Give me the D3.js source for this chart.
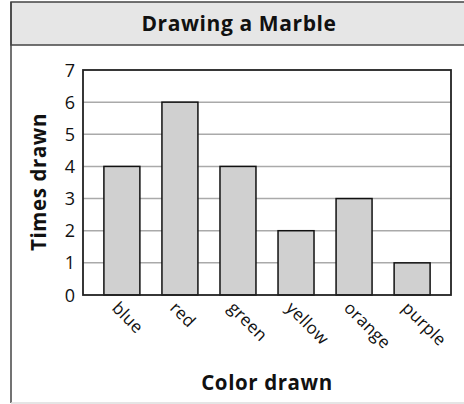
<!doctype html>
<html>
<head>
<meta charset="utf-8">
<script src="https://cdn.jsdelivr.net/npm/d3@7/dist/d3.min.js"></script>
<style>
  body { margin: 0; background: #fff; }
  text { font-family: "Open Sans", "Noto Sans", sans-serif; fill: #111; }
</style>
</head>
<body>
<script>
// data
var colors = ["blue", "red", "green", "yellow", "orange", "purple"];
var timesDrawn = [4, 6, 4, 2, 3, 1];
var yTicks = [0, 1, 2, 3, 4, 5, 6, 7];

var w = 464, h = 404;
var plotLeft = 83, plotRight = 451, plotTop = 70, plotBottom = 295;

var svg = d3.select("body").append("svg").attr("width", w).attr("height", h);

// frame + title band
svg.append("rect").attr("x", 11).attr("y", 2).attr("width", 460).attr("height", 43)
  .attr("fill", "#e6e6e6").attr("stroke", "#444").attr("stroke-width", 1.5);
svg.append("line").attr("x1", 11).attr("x2", 11).attr("y1", 2).attr("y2", 403)
  .attr("stroke", "#444").attr("stroke-width", 1.5);
svg.append("line").attr("x1", 11).attr("x2", 464).attr("y1", 403).attr("y2", 403)
  .attr("stroke", "#ddd").attr("stroke-width", 1.5);
svg.append("text").attr("x", 239).attr("y", 31).attr("text-anchor", "middle")
  .attr("font-size", "21px").attr("font-weight", "bold").attr("letter-spacing", "0.6px")
  .text("Drawing a Marble");

var x = d3.scaleBand().domain(colors).range([plotLeft, plotRight]).paddingInner(0.38).paddingOuter(0.36);
var y = d3.scaleLinear().domain([0, 7]).range([plotBottom, plotTop]);

// gridlines
svg.selectAll("line.grid").data(yTicks.slice(1, -1)).enter().append("line")
  .attr("class", "grid")
  .attr("x1", plotLeft).attr("x2", plotRight)
  .attr("y1", function(d){ return y(d); }).attr("y2", function(d){ return y(d); })
  .attr("stroke", "#aaa").attr("stroke-width", 1.5);

// bars
svg.selectAll("rect.bar").data(timesDrawn).enter().append("rect")
  .attr("class", "bar")
  .attr("x", function(d, i){ return x(colors[i]); })
  .attr("y", function(d){ return y(d); })
  .attr("width", x.bandwidth())
  .attr("height", function(d){ return y(0) - y(d); })
  .attr("fill", "#d0d0d0").attr("stroke", "#111").attr("stroke-width", 1.5);

// plot frame
svg.append("rect").attr("x", plotLeft).attr("y", plotTop).attr("width", plotRight - plotLeft).attr("height", plotBottom - plotTop)
  .attr("fill", "none").attr("stroke", "#222").attr("stroke-width", 1.8);

// y tick labels
svg.selectAll("text.ytick").data(yTicks).enter().append("text")
  .attr("class", "ytick")
  .attr("x", 75).attr("y", function(d){ return y(d) + 6.5; })
  .attr("text-anchor", "end").attr("font-size", "18px").text(function(d){ return d; });

// x category labels, slanted
svg.selectAll("text.xtick").data(colors).enter().append("text")
  .attr("class", "xtick")
  .attr("transform", function(d){ return "translate(" + (x(d) + x.bandwidth() / 2 - 11) + "," + 309 + ") rotate(45)"; })
  .attr("font-size", "17px").attr("letter-spacing", "0.3px").text(function(d){ return d; });

// axis titles
svg.append("text").attr("x", 267).attr("y", 390).attr("text-anchor", "middle")
  .attr("font-size", "20.5px").attr("font-weight", "bold").attr("letter-spacing", "0.6px")
  .text("Color drawn");
svg.append("text").attr("transform", "translate(46,182) rotate(-90)").attr("text-anchor", "middle")
  .attr("font-size", "20.5px").attr("font-weight", "bold").attr("letter-spacing", "0.6px")
  .text("Times drawn");
</script>
</body>
</html>
